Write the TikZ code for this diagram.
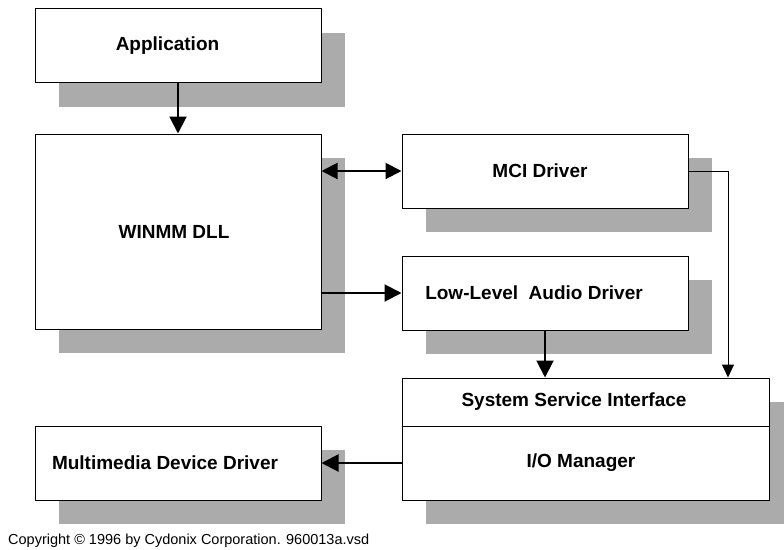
\documentclass[tikz,border=0pt]{standalone}
\usepackage{fontspec}
\setmainfont{Liberation Sans}
\usetikzlibrary{arrows.meta,shadows}

\begin{document}
\begin{tikzpicture}[
	x=1pt, y=-1pt,
	block/.style={rectangle, draw, line width=1pt, fill=white, minimum width=286pt, minimum height=74pt, inner sep=0pt,
		font=\fontsize{19}{22}\selectfont\bfseries,
		drop shadow={shadow xshift=24pt, shadow yshift=-24pt, fill=black!33, opacity=1}},
	wideblock/.style={block, minimum width=367pt},
	flow/.style={-{Triangle[length=17pt,width=17pt]}, line width=2pt},
	both/.style={{Triangle[length=16pt,width=16pt]}-{Triangle[length=16pt,width=16pt]}, line width=2pt},
	thinflow/.style={-{Triangle[length=13pt,width=12pt]}, line width=1pt}
	]
	
	\useasboundingbox (0,0) rectangle (784,549);
	
	% Left column
	\node[block] (app) at (178, 45.5) {Application\hspace*{21pt}};
	\node[block, minimum height=195pt] (winmm) at (178, 231.5) {WINMM DLL\hspace*{8pt}};
	\node[block] (mdd) at (178, 463) {Multimedia Device Driver\hspace*{26pt}};
	
	% Right column
	\node[block] (mci) at (545, 171) {MCI Driver\hspace*{10pt}};
	\node[block] (lla) at (545, 293) {Low-Level\ \ Audio Driver\hspace*{22pt}};
	\node[wideblock, minimum height=48pt] (ssi) at (585.5, 402) {System Service Interface\hspace*{23pt}};
	\node[wideblock] (io) at (585.5, 463) {I/O Manager\hspace*{9pt}};
	
	% Connections
	\draw[flow] (app) -- (winmm);
	\draw[both] (winmm.east |- mci.west) -- (mci.west);
	\draw[flow] (winmm.east |- lla.west) -- (lla.west);
	\draw[flow] (lla) -- (lla.south |- ssi.north);
	\coordinate (bend) at (728, 171);
	\draw[thinflow] (mci.east) -- (bend) -- (bend |- ssi.north);
	\draw[flow] (io.west) -- (mdd.east);
	
	% Footer
	\node[anchor=base west, inner sep=0pt, font=\fontsize{14.5}{17}\selectfont] (copy) at (8, 544)
		{Copyright \textcopyright\ 1996 by Cydonix Corporation. 960013a.vsd};
	
\end{tikzpicture}
\end{document}
